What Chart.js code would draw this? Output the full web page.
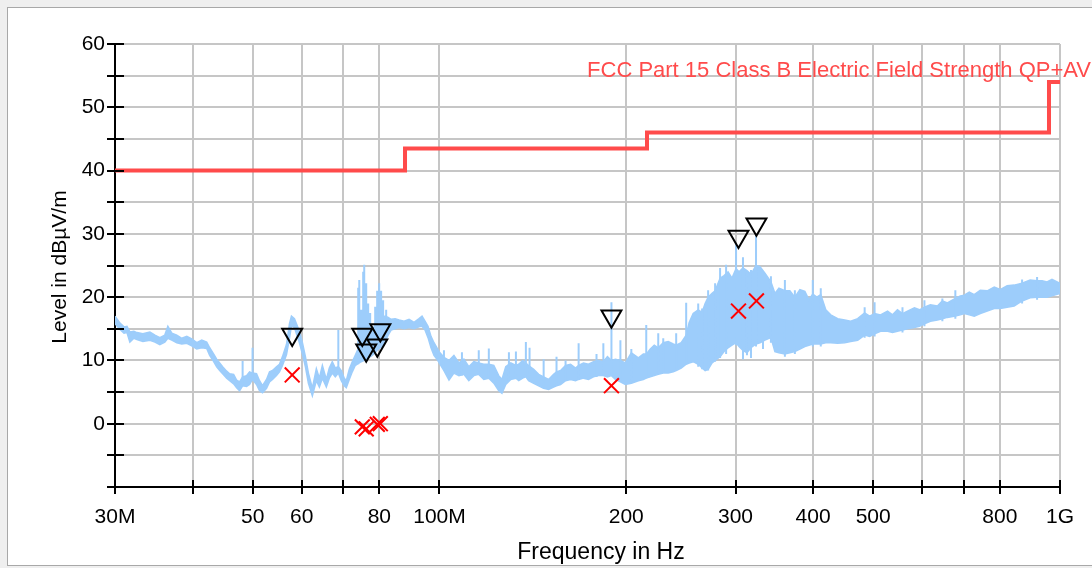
<!DOCTYPE html>
<html>
<head>
<meta charset="utf-8">
<script src="https://cdn.jsdelivr.net/npm/chart.js@4.4.1/dist/chart.umd.min.js"></script>
<style>
    html, body { margin: 0; padding: 0; overflow: hidden; background: #efefef; }
    #frame { position: absolute; left: 7px; top: 7px; right: -4px; height: 557px; background: #fff; border: 1px solid #a8a8a8; }
    #chart { position: absolute; left: 0; top: 0; }
</style>
</head>
<body>
<div id="frame"></div>
<canvas id="chart" width="1092" height="568"></canvas>
<script>
// spectrum trace (MHz, dBµV/m): upper and lower edge of the noisy sweep
const traceFreq = [
    30.0, 30.56, 31.02, 31.36, 31.70, 32.18, 32.54, 33.27, 34.15, 34.79,
    35.43, 36.09, 36.50, 37.04, 37.73, 38.44, 39.16, 39.88, 40.63, 41.39,
    42.16, 42.63, 43.27, 43.75, 44.24, 44.73, 45.40, 45.91, 46.59, 47.11,
    47.63, 48.17, 48.88, 49.43, 49.98, 50.72, 51.29, 51.86, 52.64, 53.23,
    53.82, 54.62, 55.23, 55.85, 56.68, 57.32, 57.74, 58.39, 58.82, 59.47,
    60.14, 60.81, 61.49, 62.40, 63.33, 64.04, 64.76, 65.72, 66.45, 67.19,
    67.94, 68.71, 69.47, 70.24, 70.77, 71.56, 72.36, 73.16, 73.71, 74.26,
    74.80, 75.64, 76.20, 77.05, 77.91, 78.78, 79.36, 79.96, 80.85, 81.74,
    82.66, 83.58, 84.83, 86.10, 87.70, 89.34, 91.00, 92.70, 93.74, 94.78,
    95.84, 96.91, 97.99, 99.08, 100.19, 101.68, 103.6, 105.51, 107.5, 109.49,
    111.5, 113.61, 115.7, 117.89, 120.1, 122.34, 124.6, 126.1, 127.89, 130.28,
    132.8, 134.2, 136.19, 137.8, 139.2, 141.85, 144.5, 147.19, 149.9, 152.74,
    154.4, 156.74, 159.67, 162.65, 165.7, 167.6, 170.66, 173.85, 177.09, 180.4,
    183.7, 186.51, 189.3, 192.1, 195.7, 199.3, 203.8, 209.2, 213.08, 215.4,
    218.66, 221.92, 225.2, 229.43, 233.72, 238.08, 240.7, 245.23, 249.8, 252.6,
    256.36, 261.2, 265.0, 268.0, 271.0, 275.0, 278.1, 283.3, 287.5, 291.8,
    296.1, 300.6, 303.9, 308.4, 313.0, 317.7, 323.7, 328.5, 334.6, 342.1,
    347.2, 352.4, 360.3, 367.0, 373.9, 380.9, 388.0, 393.8, 399.6, 405.6,
    411.6, 419.3, 427.1, 438.3, 449.8, 459.9, 472.0, 484.4, 493.4, 502.6,
    513.8, 527.4, 537.2, 547.1, 557.4, 567.8, 582.7, 593.6, 604.7, 618.2,
    634.5, 646.3, 658.4, 678.2, 690.8, 701.2, 714.2, 727.5, 744.0, 763.4,
    783.5, 800.9, 821.9, 843.6, 868.8, 895.1, 918.5, 935.7, 953.1, 970.8,
    1000
];
const traceHigh = [
    17.0, 15.9, 15.3, 15.4, 14.5, 14.6, 14.4, 14.2, 14.5, 14.0,
    13.6, 14.0, 15.4, 14.3, 14.0, 13.5, 13.8, 13.4, 12.8, 13.2,
    12.9, 12.0, 11.0, 10.2, 9.6, 9.0, 8.3, 7.9, 7.8, 6.9,
    6.6, 7.4, 7.6, 8.2, 8.0, 7.9, 6.8, 6.0, 7.0, 8.2,
    8.4, 9.0, 9.4, 10.6, 12.5, 15.8, 17.0, 16.6, 15.8, 14.6,
    12.8, 10.6, 8.0, 5.6, 8.7, 7.2, 9.2, 7.0, 8.8, 9.8,
    8.8, 9.0, 8.4, 7.2, 6.8, 8.6, 9.8, 10.8, 11.5, 12.5,
    13.0, 13.5, 14.0, 14.5, 15.0, 15.5, 16.0, 16.5, 16.8, 17.0,
    16.8, 16.5, 16.6, 16.4, 16.2, 16.5, 16.0, 16.6, 17.0, 16.2,
    15.4, 13.8, 12.8, 12.0, 11.2, 10.5, 10.0, 10.8, 9.6, 10.2,
    9.0, 9.8, 9.6, 9.4, 9.4, 9.2, 7.6, 7.0, 9.0, 9.6,
    9.2, 9.4, 10.0, 9.6, 9.2, 8.6, 7.8, 7.4, 7.0, 7.8,
    8.2, 8.4, 9.2, 9.4, 8.8, 9.2, 9.6, 9.4, 9.8, 10.0,
    9.8, 10.6, 10.0, 10.2, 10.0, 9.6, 11.2, 10.4, 11.0, 11.0,
    11.8, 12.4, 12.0, 12.8, 13.0, 12.6, 12.4, 12.8, 14.0, 16.0,
    17.4, 18.0, 17.6, 19.0, 20.0, 20.6, 21.0, 23.0, 23.4, 24.0,
    23.0, 24.5, 24.0, 24.6, 24.2, 23.6, 25.0, 24.8, 23.8, 22.4,
    20.6, 21.4, 21.0, 21.0, 20.0, 21.2, 20.9, 19.6, 20.5, 20.0,
    20.4, 18.0, 17.2, 16.6, 16.4, 16.2, 16.6, 17.5, 17.0, 17.4,
    17.2, 17.8, 17.2, 18.0, 17.4, 17.8, 18.3, 18.0, 18.4, 18.8,
    18.6, 19.4, 19.1, 19.8, 20.2, 20.3, 20.8, 20.4, 21.1, 21.0,
    21.6, 21.2, 21.8, 21.9, 22.2, 22.7, 22.6, 22.6, 22.4, 22.8,
    22.2
];
const traceLow = [
    15.8, 14.9, 14.3, 14.4, 12.9, 13.5, 13.3, 13.0, 13.2, 12.9,
    12.5, 12.9, 13.5, 13.2, 12.8, 12.6, 12.7, 12.3, 11.8, 12.0,
    11.9, 10.8, 9.8, 9.0, 8.4, 7.9, 7.2, 6.8, 6.3, 5.7,
    5.2, 6.0, 5.9, 6.2, 7.0, 6.2, 5.2, 4.9, 5.6, 6.6,
    7.0, 7.6, 8.2, 9.2, 10.9, 13.5, 15.5, 15.2, 14.2, 12.8,
    11.0, 9.0, 6.4, 4.4, 6.8, 5.8, 7.2, 5.8, 7.2, 8.0,
    7.4, 8.0, 6.8, 6.0, 5.7, 7.0, 8.2, 9.2, 9.4, 9.6,
    9.8, 10.0, 10.2, 10.5, 10.8, 11.2, 11.6, 11.9, 12.2, 13.0,
    14.0, 14.8, 15.0, 15.2, 15.0, 15.2, 15.0, 15.3, 15.4, 14.8,
    13.6, 12.0, 10.8, 10.2, 9.4, 8.4, 6.9, 8.0, 7.6, 7.8,
    6.8, 7.6, 7.8, 7.0, 7.2, 6.4, 5.2, 4.8, 6.2, 7.0,
    7.2, 6.8, 7.2, 7.4, 6.8, 6.4, 6.0, 5.6, 5.4, 5.8,
    6.0, 6.2, 6.8, 7.0, 6.8, 7.0, 7.2, 7.0, 7.4, 7.6,
    7.6, 7.4, 7.6, 7.0, 6.6, 6.2, 6.4, 6.8, 7.0, 7.2,
    7.4, 7.6, 7.8, 8.0, 8.0, 8.2, 8.4, 8.8, 9.4, 9.6,
    9.8, 9.4, 8.8, 8.4, 8.6, 9.6, 10.0, 10.6, 11.4, 12.0,
    12.4, 12.8, 12.2, 11.6, 11.2, 12.0, 12.6, 12.8, 13.2, 13.6,
    11.4, 11.2, 11.0, 11.2, 11.4, 11.8, 12.2, 12.4, 12.6, 12.6,
    12.6, 12.8, 12.8, 12.7, 12.8, 13.0, 13.2, 14.0, 13.8, 14.2,
    14.6, 14.6, 14.4, 14.6, 14.8, 15.0, 15.2, 15.4, 15.8, 16.2,
    16.4, 16.6, 16.8, 17.0, 17.2, 17.4, 17.2, 17.0, 17.4, 17.8,
    18.2, 18.2, 18.4, 18.6, 19.4, 19.9, 20.0, 20.0, 20.0, 20.2,
    20.6
];

// narrow spikes standing out of the sweep (MHz, bottom and top in dBµV/m)
const spikeFreq = [
    48.17, 49.98, 68.71, 73.97, 74.26, 74.80, 75.35, 75.64, 76.20, 76.76,
    77.33, 78.78, 79.36, 79.96, 80.54, 81.14, 82.06, 101.68, 108.7, 115.7,
    120.1, 129.4, 132.8, 137.8, 139.7, 147.19, 154.4, 159.67, 167.6, 179.1,
    183.7, 189.3, 195.7, 203.8, 215.4, 225.2, 229.43, 240.7, 249.8, 261.2,
    265.0, 271.0, 278.1, 283.3, 289.7, 300.6, 308.4, 313.0, 317.7, 323.7,
    332.2, 342.1, 360.3, 373.9, 399.6, 411.6, 484.4, 502.6, 557.4, 604.7,
    646.3, 678.2, 868.8, 918.5
];
const spikeBase = [
    6.0, 7.0, 8.0, 9.4, 9.6, 9.8, 9.9, 10.0, 10.2, 10.4,
    10.6, 11.2, 11.6, 11.9, 12.1, 12.4, 13.2, 8.4, 7.6, 7.8,
    7.2, 6.8, 7.2, 7.4, 6.8, 5.6, 6.0, 6.8, 7.0, 7.4,
    7.6, 7.6, 6.6, 6.4, 7.2, 7.8, 8.0, 8.4, 9.4, 9.0,
    8.6, 8.4, 9.8, 10.4, 11.0, 12.4, 10.2, 10.8, 10.4, 12.2,
    11.8, 12.8, 10.6, 11.0, 12.2, 12.2, 13.6, 13.8, 14.4, 15.4,
    16.2, 16.6, 19.0, 19.6
];
const spikeTop = [
    9.9, 12.0, 14.8, 21.5, 22.7, 18.0, 24.0, 25.1, 22.2, 19.0,
    17.5, 18.5, 21.0, 22.2, 21.0, 19.5, 18.0, 11.6, 11.3, 11.6,
    11.9, 11.3, 11.4, 12.9, 12.0, 10.2, 10.6, 10.0, 12.7, 11.0,
    12.7, 19.2, 13.2, 11.8, 15.6, 14.3, 13.5, 14.3, 19.1, 19.0,
    18.2, 21.1, 22.2, 24.6, 25.1, 28.5, 26.3, 24.0, 24.3, 29.8,
    24.0, 23.3, 22.7, 21.1, 22.7, 21.4, 18.4, 19.2, 18.4, 19.5,
    19.8, 21.1, 22.8, 23.2
];

// FCC Part 15 class B limit (stepped)
const limitFreq = [30, 88, 88, 216, 216, 960, 960, 1000];
const limitLevel = [40, 40, 43.5, 43.5, 46, 46, 54, 54];
const limitName = "FCC Part 15 Class B Electric Field Strength QP+AV";

// peak markers (triangles) and quasi-peak results (crosses)
const peakFreq = [57.9, 75.1, 76.2, 79.4, 80.3, 189.3, 303.3, 324.2];
const peakLevel = [14.1, 14.1, 11.6, 12.4, 14.8, 17.0, 29.6, 31.5];
const qpFreq = [57.9, 75.1, 76.2, 79.4, 80.3, 189.3, 303.3, 324.2];
const qpLevel = [7.7, -0.5, -0.8, -0.1, 0.0, 6.0, 17.8, 19.4];

// axis ticks
const xTickValues = [30, 40, 50, 60, 70, 80, 100, 200, 300, 400, 500, 600, 700, 800, 1000];
const xTickText = ["30M", "", "50", "60", "", "80", "100M", "200", "300", "400", "500", "", "", "800", "1G"];
const xTitle = "Frequency in Hz";
const yTitle = "Level in dBµV/m";

const traceColor = "#9dcdfb";
const limitColor = "#ff4b4b";
const gridColor = "#c6c6c6";
const fontFamily = "'Liberation Sans', Arial, sans-serif";

Chart.defaults.font.family = fontFamily;
Chart.defaults.color = "#000";

const toPoints = (xs, ys) => xs.map((x, i) => ({ x: x, y: ys[i] }));

// each spike is a vertical segment; a null point breaks the line between them
const spikePoints = spikeFreq.flatMap((f, i) => [
    { x: f, y: spikeBase[i] },
    { x: f, y: spikeTop[i] },
    { x: f, y: null }
]);

// black tick marks that cross the axis lines
const axisTicks = {
    id: "axisTicks",
    afterDatasetsDraw(chart) {
        const { ctx, chartArea, scales } = chart;
        ctx.save();
        ctx.strokeStyle = "#000";
        ctx.lineWidth = 2;
        ctx.beginPath();
        scales.y.ticks.forEach(t => {
            const py = Math.round(scales.y.getPixelForValue(t.value));
            ctx.moveTo(chartArea.left - 8, py);
            ctx.lineTo(chartArea.left + 9, py);
        });
        scales.x.ticks.forEach(t => {
            const px = Math.round(scales.x.getPixelForValue(t.value));
            ctx.moveTo(px, chartArea.bottom - 7);
            ctx.lineTo(px, chartArea.bottom + 7);
        });
        ctx.stroke();
        ctx.restore();
    }
};

const textLabels = {
    id: "textLabels",
    beforeDatasetsDraw(chart) {
        const ctx = chart.ctx;
        ctx.save();
        ctx.fillStyle = limitColor;
        ctx.font = `22px ${fontFamily}`;
        ctx.textAlign = "right";
        ctx.textBaseline = "alphabetic";
        ctx.fillText(limitName, 1091, 77);

        ctx.fillStyle = "#000";
        ctx.font = `23px ${fontFamily}`;
        ctx.textAlign = "center";
        ctx.fillText(xTitle, 601, 559);

        ctx.font = `21px ${fontFamily}`;
        ctx.translate(60, 267);
        ctx.rotate(-Math.PI / 2);
        ctx.textBaseline = "middle";
        ctx.fillText(yTitle, 0, 0);
        ctx.restore();
    }
};

new Chart(document.getElementById("chart"), {
    type: "line",
    data: {
        datasets: [
            {
                label: "Peak",
                data: toPoints(traceFreq, traceHigh),
                borderColor: traceColor,
                backgroundColor: traceColor,
                borderWidth: 1.5,
                pointRadius: 0,
                fill: "+1",
                order: 5
            },
            {
                label: "Peak low",
                data: toPoints(traceFreq, traceLow),
                borderColor: traceColor,
                borderWidth: 1.5,
                pointRadius: 0,
                fill: false,
                order: 6
            },
            {
                label: "Peak spikes",
                data: spikePoints,
                borderColor: traceColor,
                borderWidth: 2,
                pointRadius: 0,
                spanGaps: false,
                fill: false,
                order: 4
            },
            {
                label: limitName,
                data: toPoints(limitFreq, limitLevel),
                borderColor: limitColor,
                borderWidth: 4,
                pointRadius: 0,
                fill: false,
                order: 3
            },
            {
                label: "Peak markers",
                data: toPoints(peakFreq, peakLevel),
                showLine: false,
                pointStyle: "triangle",
                pointRotation: 180,
                pointRadius: 11.5,
                pointBorderWidth: 2,
                pointBorderColor: "#000",
                pointBackgroundColor: "rgba(0,0,0,0)",
                order: 1
            },
            {
                label: "QP",
                data: toPoints(qpFreq, qpLevel),
                showLine: false,
                pointStyle: "crossRot",
                pointRadius: 10.5,
                pointBorderWidth: 2,
                pointBorderColor: "#ff0000",
                order: 0
            }
        ]
    },
    options: {
        responsive: false,
        animation: false,
        events: [],
        layout: { padding: { left: 0, top: 44, right: 29, bottom: 0 } },
        plugins: {
            legend: { display: false },
            tooltip: { enabled: false }
        },
        scales: {
            x: {
                type: "logarithmic",
                min: 30,
                max: 1000,
                afterBuildTicks: (scale) => {
                    scale.ticks = xTickValues.map(v => ({ value: v }));
                },
                afterFit: (scale) => { scale.height = 81; },
                ticks: {
                    autoSkip: false,
                    maxRotation: 0,
                    padding: 18,
                    font: { size: 21 },
                    callback: (value) => {
                        const i = xTickValues.indexOf(value);
                        return i >= 0 ? xTickText[i] : "";
                    }
                },
                grid: {
                    color: (c) => (c.tick && c.tick.value === 30) ? "rgba(0,0,0,0)" : gridColor,
                    lineWidth: 2,
                    drawTicks: false
                },
                border: { color: "#000", width: 2 }
            },
            y: {
                type: "linear",
                min: -10,
                max: 60,
                afterFit: (scale) => { scale.width = 115; },
                ticks: {
                    stepSize: 5,
                    padding: 10,
                    font: { size: 21 },
                    callback: (value) => (value % 10 === 0 && value > -10) ? String(value) : ""
                },
                grid: {
                    color: (c) => (c.tick && c.tick.value === -10) ? "rgba(0,0,0,0)" : gridColor,
                    lineWidth: 2,
                    drawTicks: false
                },
                border: { color: "#000", width: 2 }
            }
        }
    },
    plugins: [textLabels, axisTicks]
});
</script>
</body>
</html>
